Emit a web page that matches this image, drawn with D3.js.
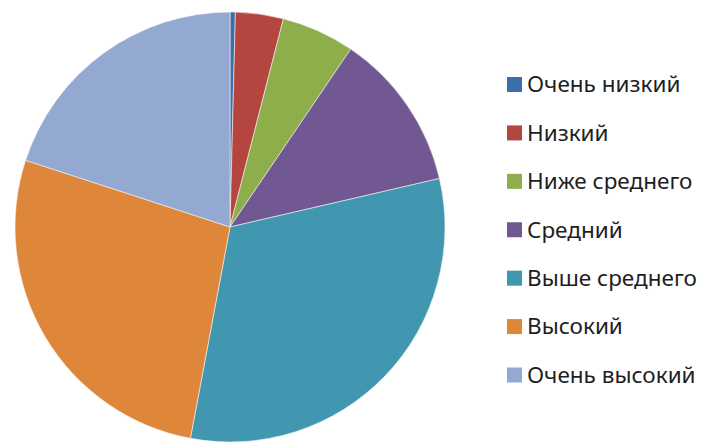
<!DOCTYPE html>
<html>
<head>
    <meta charset="utf-8">
    <title>Pie</title>
    <script src="https://d3js.org/d3.v7.min.js"></script>
    <style>
        body { margin: 0; background: #fff; }
        .legend text { font-family: "Noto Sans", sans-serif; font-size: 22.5px; fill: #1e1e1e; }
    </style>
</head>
<body>
    <div id="chart"></div>
    <script>
// Chart data
const categories = ["Очень низкий", "Низкий", "Ниже среднего", "Средний", "Выше среднего", "Высокий", "Очень высокий"];
const values = [0.4, 3.6, 5.5, 11.9, 31.6, 27.1, 20.0];
const colors = ["#3d6eac", "#b5463f", "#8dae4b", "#725893", "#4197af", "#de873b", "#94a9d2"];

const data = categories.map((c, i) => ({ name: c, value: values[i] }));

const svg = d3.select("#chart").append("svg").attr("width", 705).attr("height", 442);

const cx = 230, cy = 227, radius = 215;

const pie = d3.pie().value(d => d.value).sort(null);
const arc = d3.arc().innerRadius(0).outerRadius(radius);
const color = d3.scaleOrdinal().domain(categories).range(colors);

const g = svg.append("g").attr("transform", `translate(${cx},${cy})`);

g.selectAll("path")
    .data(pie(data))
    .enter().append("path")
    .attr("d", arc)
    .attr("fill", d => color(d.data.name))
    .attr("stroke", "#f4f4f4")
    .attr("stroke-width", 0.6);

// Legend
const legend = svg.append("g").attr("class", "legend");
const ly = d3.scalePoint().domain(categories).range([84.5, 375]);

const item = legend.selectAll("g")
    .data(categories)
    .enter().append("g")
    .attr("transform", d => `translate(507,${ly(d)})`);

item.append("rect")
    .attr("x", 0).attr("y", -7.5)
    .attr("width", 15).attr("height", 15)
    .attr("fill", d => color(d));

item.append("text")
    .attr("x", 20)
    .attr("dy", "0.35em")
    .text(d => d);
    </script>
</body>
</html>
